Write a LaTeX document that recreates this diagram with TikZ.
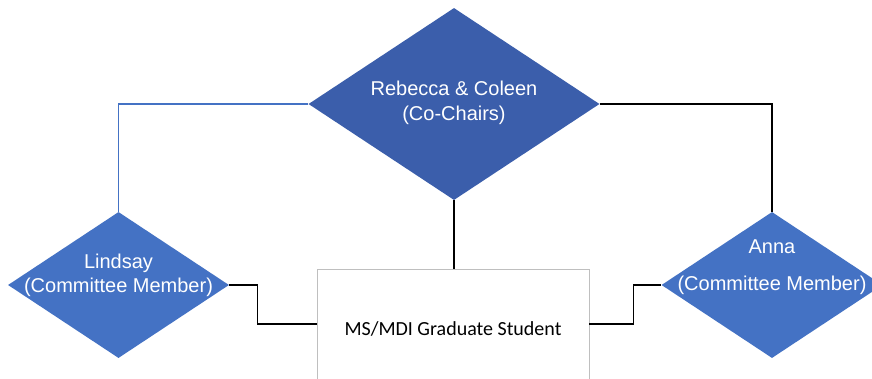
\documentclass[tikz,border=0pt]{standalone}
\usepackage{fontspec}
\setmainfont{Liberation Sans}
\newfontfamily\boxfont{Carlito}
\usetikzlibrary{shapes.geometric}

\definecolor{chairblue}{HTML}{3B5EAB}
\definecolor{memberblue}{HTML}{4472C4}
\definecolor{boxgray}{HTML}{BFBFBF}

\tikzset{
	member/.style={diamond, fill=memberblue, inner sep=0pt,
		minimum width=221pt, minimum height=146pt},
	chair/.style={member, fill=chairblue,
		minimum width=291pt, minimum height=192pt},
	role/.style={text=white, align=center, font=\fontsize{20}{24}\selectfont},
	link/.style={line width=1.3pt},
}

\begin{document}
\begin{tikzpicture}[x=1pt, y=-1pt]
		\clip (0, 0) rectangle (872, 378);
		\fill[white] (0, 0) rectangle (872, 378);

		\node[chair, label={[role, yshift=1.5pt]center:Rebecca \& Coleen\\[1pt](Co-Chairs)}]
			(chairs) at (454, 104) {};
		\node[member, label={[role, yshift=10pt]center:Lindsay\\(Committee Member)}]
			(lindsay) at (118.5, 285) {};
		\node[member, label={[role, yshift=17.5pt]center:Anna\\[13pt](Committee Member)}]
			(anna) at (772, 285) {};
		\node[draw=boxgray, line width=.8pt, fill=white, minimum width=272pt,
			minimum height=120pt, font=\boxfont\fontsize{20}{24}\selectfont]
			(student) at (453, 329) {MS/MDI Graduate Student};

		\draw[link, memberblue] (chairs.west) -| (lindsay.north);
		\draw[link] (chairs.east) -| (anna.north);
		\draw[link] (chairs.south) -- (chairs.south |- student.north);

		\draw[link] (lindsay.east) -- ++(28, 0) |- ([yshift=5pt]student.west);
		\draw[link] ([yshift=5pt]student.east) -- ++(44, 0) |- (anna.west);
	\end{tikzpicture}
\end{document}
